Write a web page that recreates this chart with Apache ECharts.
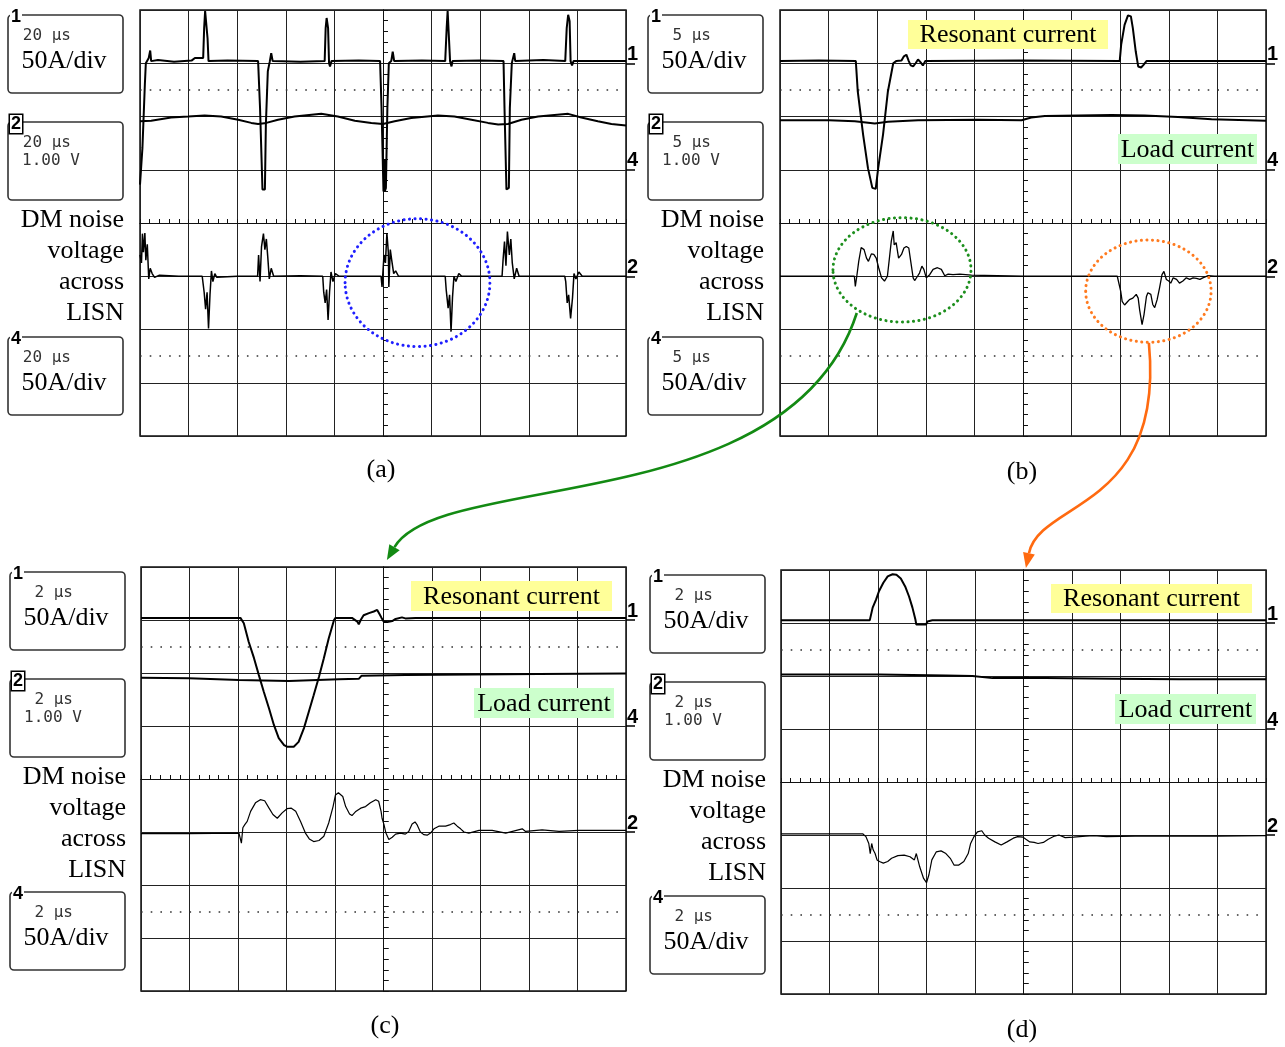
<!DOCTYPE html>
<html>
<head>
<meta charset="utf-8">
<script src="https://cdn.jsdelivr.net/npm/echarts@6/dist/echarts.min.js"></script>
<style>
  html, body { margin: 0; padding: 0; background: #fff; }
  #scope { width: 1285px; height: 1047px; }
</style>
</head>
<body>
<div id="scope"></div>
<script>
// all traces in scope divisions: x -5..5 (left to right), y -4..4 (bottom to top)

// (a) 20 us/div
var a_ch1 = [[-5,0.72],[-4.95,1.41],[-4.9,2.6],[-4.88,3.0],[-4.82,3.1],[-4.79,3.24],[-4.77,3.04],[-4.63,3.06],[-4.3,3.03],[-3.94,3.05],[-3.87,3.1],[-3.7,3.1],[-3.68,3.66],[-3.66,3.98],[-3.63,3.98],[-3.61,3.47],[-3.59,3.04],[-3.2,3.05],[-2.57,3.04],[-2.53,2.16],[-2.48,0.63],[-2.43,0.63],[-2.41,1.85],[-2.37,2.85],[-2.33,3.03],[-2.3,3.19],[-2.27,3.04],[-1.7,3.03],[-1.2,3.04],[-1.18,3.66],[-1.16,3.85],[-1.13,3.66],[-1.11,3.0],[-1.09,2.94],[-1.06,3.04],[-0.5,3.05],[-0.06,3.04],[-0.03,2.16],[0.01,0.59],[0.03,1.2],[0.04,0.6],[0.06,0.66],[0.09,2.16],[0.12,3.0],[0.17,3.04],[0.2,3.22],[0.23,3.04],[0.8,3.05],[1.28,3.04],[1.31,3.66],[1.33,3.98],[1.36,3.98],[1.38,3.04],[1.41,2.94],[1.43,3.04],[2.0,3.05],[2.48,3.04],[2.5,2.16],[2.54,0.63],[2.59,0.66],[2.61,2.16],[2.65,3.0],[2.7,3.19],[2.72,3.04],[3.3,3.06],[3.75,3.04],[3.78,3.66],[3.81,3.91],[3.84,3.79],[3.86,3.04],[3.89,2.96],[3.92,3.04],[5,3.04]];
var a_ch4 = [[-5,1.91],[-4.77,1.92],[-4.36,1.98],[-4.01,2.0],[-3.67,2.02],[-3.33,2.0],[-2.98,1.94],[-2.71,1.88],[-2.57,1.86],[-2.4,1.88],[-2.16,1.94],[-1.82,2.0],[-1.27,2.05],[-0.93,2.0],[-0.58,1.92],[-0.24,1.88],[0,1.86],[0.24,1.91],[0.58,1.97],[1.13,2.02],[1.47,2.0],[1.82,1.94],[2.16,1.88],[2.37,1.85],[2.57,1.86],[2.85,1.94],[3.19,2.0],[3.81,2.05],[4.08,1.98],[4.42,1.91],[4.7,1.86],[5,1.83]];
var a_ch2 = [[-5,-0.6],[-4.97,-0.75],[-4.95,-0.2],[-4.93,-0.55],[-4.9,-0.19],[-4.88,-0.7],[-4.85,-0.4],[-4.82,-1.05],[-4.79,-0.85],[-4.75,-0.95],[-4.7,-1.02],[-4.6,-0.98],[-4.2,-1.0],[-3.72,-1.0],[-3.68,-1.3],[-3.65,-1.62],[-3.62,-1.3],[-3.59,-1.98],[-3.56,-1.35],[-3.53,-0.9],[-3.5,-1.1],[-3.46,-0.95],[-3.42,-1.02],[-3.0,-1.0],[-2.58,-1.0],[-2.56,-0.6],[-2.53,-1.1],[-2.5,-0.45],[-2.46,-0.2],[-2.43,-0.5],[-2.4,-0.3],[-2.37,-0.65],[-2.34,-1.05],[-2.3,-0.85],[-2.25,-1.0],[-1.7,-0.99],[-1.24,-1.0],[-1.22,-1.3],[-1.19,-1.5],[-1.16,-1.25],[-1.13,-1.82],[-1.1,-1.3],[-1.07,-0.92],[-1.03,-1.1],[-0.98,-0.95],[-0.9,-1.0],[-0.04,-1.0],[-0.02,-1.2],[0.01,-1.2],[0.02,-0.6],[0.05,-0.75],[0.08,-0.19],[0.11,-0.55],[0.12,-1.2],[0.15,-0.5],[0.18,-0.7],[0.22,-0.95],[0.26,-0.9],[0.32,-1.0],[0.8,-1.0],[1.28,-1.0],[1.3,-1.25],[1.34,-1.6],[1.37,-1.35],[1.4,-2.04],[1.43,-1.4],[1.46,-1.0],[1.5,-1.1],[1.56,-0.95],[1.62,-1.0],[2.45,-1.0],[2.47,-0.7],[2.5,-0.35],[2.53,-0.8],[2.56,-0.16],[2.6,-0.6],[2.63,-0.3],[2.66,-0.75],[2.7,-1.05],[2.75,-0.85],[2.8,-1.0],[3.74,-1.0],[3.76,-1.1],[3.79,-1.5],[3.82,-1.35],[3.86,-1.79],[3.9,-1.4],[3.93,-0.95],[3.97,-1.05],[4.03,-0.92],[4.1,-1.0],[5,-1.0]];

// (b) 5 us/div
var b_ch1 = [[-5,3.04],[-4.2,3.05],[-3.44,3.04],[-3.4,2.47],[-3.29,1.66],[-3.19,1.03],[-3.1,0.66],[-3.03,0.64],[-2.98,1.03],[-2.88,1.66],[-2.78,2.47],[-2.67,3.0],[-2.61,3.04],[-2.5,3.05],[-2.45,3.13],[-2.4,3.16],[-2.35,3.04],[-2.31,2.96],[-2.26,2.94],[-2.21,3.0],[-2.16,3.07],[-2.11,3.02],[-2.06,2.96],[-2.01,3.04],[0,3.05],[1.99,3.04],[2.02,3.35],[2.09,3.72],[2.16,3.9],[2.22,3.88],[2.26,3.66],[2.32,3.22],[2.37,2.94],[2.43,2.92],[2.48,2.97],[2.54,3.04],[5,3.04]];
var b_ch4 = [[-5,1.93],[-3.99,1.93],[-3.46,1.91],[-3.05,1.87],[-2.78,1.9],[-2.16,1.93],[-0.93,1.94],[-0.03,1.93],[0.17,1.98],[0.45,2.01],[1.82,2.03],[2.5,2.02],[3.19,1.99],[3.88,1.95],[5,1.92]];
var b_ch2 = [[-5,-1.0],[-4,-1.0],[-3.47,-1.0],[-3.45,-1.19],[-3.42,-1.0],[-3.38,-0.72],[-3.33,-0.46],[-3.27,-0.5],[-3.22,-0.66],[-3.18,-0.72],[-3.12,-0.58],[-3.07,-0.59],[-3.02,-0.66],[-2.97,-0.84],[-2.91,-1.03],[-2.85,-1.09],[-2.79,-1.0],[-2.74,-0.59],[-2.71,-0.34],[-2.67,-0.15],[-2.65,-0.41],[-2.61,-0.37],[-2.56,-0.66],[-2.5,-0.59],[-2.45,-0.47],[-2.4,-0.44],[-2.35,-0.47],[-2.31,-0.72],[-2.26,-1.03],[-2.23,-1.08],[-2.17,-1.0],[-2.13,-0.94],[-2.08,-0.81],[-2.04,-0.87],[-1.99,-1.03],[-1.92,-0.97],[-1.85,-0.87],[-1.76,-0.84],[-1.68,-0.87],[-1.61,-0.99],[-1.54,-0.96],[-1.44,-0.97],[-1.3,-0.96],[-1.06,-0.98],[0,-1.0],[1.94,-1.0],[1.97,-1.03],[2.01,-1.28],[2.04,-1.47],[2.09,-1.54],[2.15,-1.48],[2.19,-1.44],[2.26,-1.41],[2.33,-1.34],[2.37,-1.41],[2.4,-1.63],[2.45,-1.91],[2.49,-1.72],[2.54,-1.38],[2.57,-1.31],[2.63,-1.34],[2.67,-1.53],[2.71,-1.59],[2.76,-1.44],[2.81,-1.22],[2.86,-0.97],[2.9,-0.91],[2.95,-1.06],[3.0,-1.09],[3.04,-1.13],[3.09,-1.03],[3.16,-1.06],[3.22,-1.13],[3.29,-1.09],[3.36,-1.03],[3.43,-1.06],[3.5,-1.03],[3.57,-1.04],[3.64,-1.06],[3.7,-1.03],[3.81,-0.99],[3.94,-1.0],[5,-1.0]];

// (c) 2 us/div
var c_ch1 = [[-5,3.04],[-2.95,3.04],[-2.88,2.94],[-2.78,2.59],[-2.67,2.28],[-2.57,1.96],[-2.47,1.65],[-2.36,1.33],[-2.26,1.02],[-2.16,0.77],[-2.05,0.64],[-1.99,0.61],[-1.85,0.61],[-1.75,0.7],[-1.64,0.96],[-1.54,1.27],[-1.44,1.58],[-1.33,1.93],[-1.23,2.28],[-1.13,2.65],[-1.02,3.0],[-0.99,3.04],[-0.65,3.04],[-0.54,2.97],[-0.51,2.92],[-0.47,3.0],[-0.41,3.09],[-0.3,3.13],[-0.2,3.16],[-0.13,3.19],[-0.08,3.11],[-0.04,3.04],[0.01,2.96],[0.08,2.96],[0.18,2.98],[0.25,3.02],[0.38,3.05],[0.45,3.03],[0.66,3.04],[5,3.04]];
var c_ch4 = [[-5,1.91],[-4.01,1.9],[-2.98,1.87],[-1.95,1.85],[-0.92,1.88],[-0.51,1.89],[-0.45,1.95],[0.45,1.96],[1.83,1.97],[3.2,1.98],[5,1.99]];
var c_ch2 = [[-5,-1.03],[-4.01,-1.03],[-2.98,-1.02],[-2.95,-1.0],[-2.93,-1.21],[-2.9,-0.92],[-2.86,-0.86],[-2.81,-0.8],[-2.74,-0.61],[-2.64,-0.45],[-2.54,-0.39],[-2.45,-0.41],[-2.36,-0.55],[-2.28,-0.67],[-2.19,-0.74],[-2.09,-0.64],[-1.99,-0.56],[-1.9,-0.55],[-1.81,-0.61],[-1.71,-0.8],[-1.61,-1.02],[-1.53,-1.13],[-1.44,-1.18],[-1.33,-1.16],[-1.23,-1.08],[-1.13,-0.83],[-1.04,-0.52],[-0.99,-0.3],[-0.93,-0.26],[-0.89,-0.23],[-0.84,-0.33],[-0.78,-0.52],[-0.7,-0.66],[-0.65,-0.69],[-0.58,-0.62],[-0.47,-0.55],[-0.37,-0.52],[-0.27,-0.45],[-0.16,-0.39],[-0.1,-0.42],[-0.05,-0.61],[-0.03,-0.74],[0.01,-0.86],[0.05,-1.02],[0.11,-1.14],[0.18,-1.1],[0.25,-1.04],[0.35,-1.02],[0.45,-1.04],[0.52,-0.99],[0.59,-0.85],[0.65,-0.81],[0.69,-0.86],[0.76,-1.0],[0.83,-1.05],[0.9,-1.06],[0.97,-1.02],[1.04,-0.94],[1.14,-0.89],[1.28,-0.89],[1.38,-0.86],[1.45,-0.83],[1.52,-0.89],[1.59,-0.94],[1.66,-1.0],[1.76,-1.02],[1.97,-0.97],[2.24,-0.97],[2.52,-1.02],[2.86,-0.94],[2.93,-0.99],[3.27,-0.96],[3.62,-0.99],[4.03,-0.97],[4.58,-0.97],[5,-0.97]];

// (d) 2 us/div
var d_ch1 = [[-5,3.05],[-3.17,3.05],[-3.11,3.29],[-3.04,3.44],[-2.98,3.6],[-2.89,3.76],[-2.8,3.88],[-2.7,3.92],[-2.62,3.91],[-2.53,3.84],[-2.44,3.69],[-2.36,3.5],[-2.29,3.29],[-2.23,3.07],[-2.21,2.97],[-2.01,2.97],[-1.98,3.03],[-1.88,3.05],[5,3.05]];
var d_ch4 = [[-5,2.03],[-2.98,2.03],[-1.6,2.01],[-1.05,2.0],[-0.64,1.96],[0.46,1.96],[1.84,1.95],[3.21,1.94],[5,1.94]];
var d_ch2 = [[-5,-0.98],[-3.31,-0.98],[-3.25,-1.03],[-3.19,-1.16],[-3.16,-1.35],[-3.13,-1.16],[-3.1,-1.28],[-3.06,-1.35],[-3.02,-1.47],[-2.97,-1.5],[-2.89,-1.53],[-2.8,-1.5],[-2.72,-1.44],[-2.59,-1.39],[-2.46,-1.38],[-2.34,-1.41],[-2.25,-1.47],[-2.21,-1.35],[-2.14,-1.6],[-2.06,-1.82],[-2.0,-1.9],[-1.95,-1.75],[-1.89,-1.47],[-1.8,-1.32],[-1.7,-1.3],[-1.6,-1.35],[-1.51,-1.44],[-1.43,-1.57],[-1.34,-1.57],[-1.23,-1.5],[-1.14,-1.35],[-1.09,-1.16],[-1.02,-1.03],[-0.95,-0.94],[-0.86,-0.92],[-0.8,-1.0],[-0.72,-1.06],[-0.59,-1.13],[-0.46,-1.19],[-0.34,-1.13],[-0.21,-1.06],[-0.12,-1.03],[-0.01,-1.04],[0.05,-1.08],[0.13,-1.13],[0.22,-1.14],[0.3,-1.16],[0.41,-1.14],[0.51,-1.08],[0.64,-1.02],[0.73,-1.0],[0.86,-1.05],[1.03,-1.04],[1.28,-1.02],[1.45,-1.01],[1.71,-1.03],[2.3,-1.02],[3.15,-1.02],[4.0,-1.02],[5,-1.01]];

// dotted rings: centre x, centre y, half width, half height (divisions)
var a_rings = [[0.71, -1.12, 1.49, 1.2]];
var b_rings = [[-2.49, -0.88, 1.42, 0.98], [2.58, -1.28, 1.29, 0.96]];

var timeBase = ['20 \u03bcs', '5 \u03bcs', '2 \u03bcs', '2 \u03bcs'];
var captions = ['(a)', '(b)', '(c)', '(d)'];
var chanLevels = [3, 1, -1];
var chanNames = {'3': '1', '1': '4', '-1': '2'};
var refLevels = [2.5, -2.5];

var panels = [
  { rect: [140, 10, 486, 426], ch1: a_ch1, ch4: a_ch4, ch2: a_ch2, rings: a_rings, ringColors: ['#1f1fff'], w2: 1.5,
    boxX: 8, boxY: [15, 122, 337], cap: [381, 470] },
  { rect: [780, 10, 486, 426], ch1: b_ch1, ch4: b_ch4, ch2: b_ch2, rings: b_rings, ringColors: ['#1d8f1d', '#ff7a1f'], w2: 1.3,
    boxX: 648, boxY: [15, 122, 337], cap: [1022, 472],
    tags: [[908, 20, 200, 29], [1118, 134, 139, 30]] },
  { rect: [141, 567, 485, 424], ch1: c_ch1, ch4: c_ch4, ch2: c_ch2, rings: [], ringColors: [], w2: 1.2,
    boxX: 10, boxY: [572, 679, 892], cap: [385, 1026],
    tags: [[411, 581, 201, 30], [474, 688, 140, 30]] },
  { rect: [781, 570, 485, 424], ch1: d_ch1, ch4: d_ch4, ch2: d_ch2, rings: [], ringColors: [], w2: 1.2,
    boxX: 650, boxY: [575, 682, 896], cap: [1022, 1030],
    tags: [[1051, 584, 201, 29], [1115, 694, 141, 30]] }
];

var chart = echarts.init(document.getElementById('scope'), null, { renderer: 'canvas' });

var grids = [], xAxes = [], yAxes = [], series = [];
var ink = '#111';

panels.forEach(function (p, g) {
  grids.push({ left: p.rect[0], top: p.rect[1], width: p.rect[2], height: p.rect[3],
    show: true, borderColor: ink, borderWidth: 1.5, backgroundColor: 'transparent' });

  [true, false].forEach(function (inside) {
    xAxes.push({
      type: 'value', gridIndex: g, min: -5, max: 5, interval: 1,
      axisLine: { onZero: true, lineStyle: { color: ink, width: 1 } },
      axisTick: { show: true, inside: inside, length: 4, lineStyle: { color: ink } },
      minorTick: { show: true, splitNumber: 5, length: 4, lineStyle: { color: ink } },
      axisLabel: { show: false },
      splitLine: { show: inside, lineStyle: { color: '#222', width: 1 } }
    });
    yAxes.push({
      type: 'value', gridIndex: g, min: -4, max: 4, interval: 1,
      axisLine: { onZero: true, lineStyle: { color: ink, width: 1 } },
      axisTick: { show: true, inside: inside, length: 5, lineStyle: { color: ink } },
      minorTick: { show: true, splitNumber: 5, length: 5, lineStyle: { color: ink } },
      axisLabel: { show: false },
      splitLine: { show: inside, lineStyle: { color: '#222', width: 1 } }
    });
  });
  // channel markers on the right edge
  yAxes.push({
    type: 'value', gridIndex: g, min: -4, max: 4, position: 'right',
    axisLine: { show: false, onZero: false },
    axisTick: { show: true, customValues: chanLevels, length: 9, lineStyle: { color: '#000', width: 1.5 } },
    axisLabel: { show: true, customValues: chanLevels, margin: 1, verticalAlign: 'bottom',
      fontSize: 20, fontWeight: 'bold', fontFamily: 'Liberation Sans', color: '#000', lineHeight: 18,
      formatter: function (v) { return chanNames[String(v)] || ''; } },
    splitLine: { show: false }
  });

  var xi = 2 * g, yi = 3 * g;
  series.push({
    type: 'line', xAxisIndex: xi, yAxisIndex: yi, data: p.ch1, symbol: 'none', silent: true, z: 5,
    lineStyle: { color: '#000', width: 2 },
    markLine: { silent: true, symbol: 'none', label: { show: false }, animation: false,
      lineStyle: { color: '#333', width: 1.6, type: [1.6, p.rect[2] / 50 - 1.6] },
      data: refLevels.map(function (v) { return { yAxis: v }; }) }
  });
  series.push({ type: 'line', xAxisIndex: xi, yAxisIndex: yi, data: p.ch4, symbol: 'none', silent: true, z: 5,
    lineStyle: { color: '#000', width: 2 } });
  series.push({ type: 'line', xAxisIndex: xi, yAxisIndex: yi, data: p.ch2, symbol: 'none', silent: true, z: 5,
    lineStyle: { color: '#000', width: p.w2 } });
  if (p.rings.length) {
    series.push({
      type: 'custom', xAxisIndex: xi, yAxisIndex: yi, data: p.rings, clip: false, silent: true, z: 6,
      renderItem: function (params, api) {
        var c = api.coord([api.value(0), api.value(1)]);
        var s = api.size([api.value(2), api.value(3)]);
        return { type: 'ellipse', shape: { cx: c[0], cy: c[1], rx: s[0], ry: s[1] },
          style: { fill: null, stroke: p.ringColors[params.dataIndex], lineWidth: 3, lineDash: [0.1, 5.4], lineCap: 'round' } };
      }
    });
  }
});

chart.setOption({
  animation: false,
  backgroundColor: '#fff',
  grid: grids, xAxis: xAxes, yAxis: yAxes, series: series
});

// side boxes, labels and captions
var serif = '"Liberation Serif", "Times New Roman", serif';
var mono = '"DejaVu Sans Mono", monospace';
var gfx = [];
function txt(x, y, s, font, align, extra) {
  var st = { text: s, font: font, fill: '#000', align: align || 'left', verticalAlign: 'middle' };
  if (extra) Object.keys(extra).forEach(function (k) { st[k] = extra[k]; });
  gfx.push({ type: 'text', x: x, y: y, z: 20, style: st });
}
panels.forEach(function (p, g) {
  var bx = p.boxX;
  var tabs = ['1', '2', '4'];
  p.boxY.forEach(function (by, i) {
    gfx.push({ type: 'rect', z: 18, shape: { x: bx, y: by, width: 115, height: 78, r: 4 },
      style: { fill: '#fff', stroke: '#333', lineWidth: 1.6 } });
    var tabStyle = { backgroundColor: '#fff', padding: [0, 1] };
    if (tabs[i] === '2') { tabStyle.borderColor = '#000'; tabStyle.borderWidth = 1.5; }
    txt(bx + 8, by + 2, tabs[i], 'bold 18px "Liberation Sans", sans-serif', 'center', tabStyle);
    txt(bx + 63, by + 21, timeBase[g], '16px ' + mono, 'right', { fill: '#333' });
    if (i === 1) {
      txt(bx + 14, by + 39, '1.00 V', '16px ' + mono, 'left', { fill: '#333' });
    } else {
      txt(bx + 56, by + 46, '50A/div', '26px ' + serif, 'center');
    }
  });
  ['DM noise', 'voltage', 'across', 'LISN'].forEach(function (s, k) {
    txt(bx + 116, p.boxY[1] + 98 + 31 * k, s, '26px ' + serif, 'right');
  });
  txt(p.cap[0], p.cap[1], captions[g], '26px ' + serif, 'center');
  if (p.tags) {
    [['Resonant current', '#ffff99'], ['Load current', '#ccffcc']].forEach(function (t, k) {
      var r = p.tags[k];
      gfx.push({ type: 'rect', z: 18, shape: { x: r[0], y: r[1], width: r[2], height: r[3] }, style: { fill: t[1] } });
      txt(r[0] + r[2] / 2, r[1] + r[3] / 2 + 1, t[0], '26px ' + serif, 'center');
    });
  }
});

// curved arrows from the rings in (b) to the zoomed panels
function arrow(color, pts) {
  var P = pts.map(function (q) { return chart.convertToPixel({ gridIndex: q[0] }, [q[1], q[2]]); });
  var dx = P[3][0] - P[2][0], dy = P[3][1] - P[2][1];
  var len = Math.sqrt(dx * dx + dy * dy); dx /= len; dy /= len;
  var bxp = P[3][0] - dx * 15, byp = P[3][1] - dy * 15;
  gfx.push({ type: 'bezierCurve', z: 19,
    shape: { x1: P[0][0], y1: P[0][1], cpx1: P[1][0], cpy1: P[1][1], cpx2: P[2][0], cpy2: P[2][1], x2: bxp, y2: byp },
    style: { stroke: color, lineWidth: 2.6, fill: null } });
  gfx.push({ type: 'polygon', z: 19,
    shape: { points: [[P[3][0], P[3][1]], [bxp - dy * 6, byp + dx * 6], [bxp + dy * 6, byp - dx * 6]] },
    style: { fill: color } });
}
arrow('#138a13', [[1, -3.42, -1.69], [1, -4.79, -5.58], [2, 1.16, 5.83], [2, 0.07, 4.13]]);
arrow('#ff6a10', [[1, 2.59, -2.25], [1, 2.92, -5.4], [3, 0.34, 5.32], [3, 0.05, 4.04]]);

chart.setOption({ graphic: { elements: gfx } });
window.onresize = chart.resize;
</script>
</body>
</html>
